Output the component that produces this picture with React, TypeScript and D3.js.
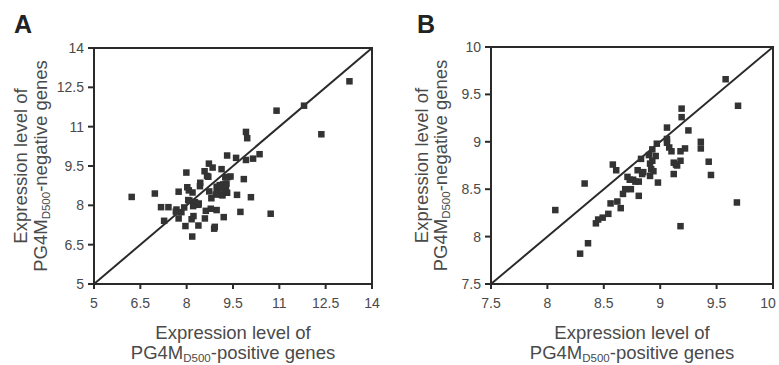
import React from "react";
import * as d3 from "d3";

// panel A: expression of PG4M(D500)-positive (x) vs -negative (y) genes
const aX = [6.22, 6.97, 7.17, 7.41, 7.27, 7.74, 7.67, 7.74, 7.83, 7.96, 7.99, 8.02, 8.07, 7.92, 8.05,
  8.16, 8.18, 8.19, 8.21, 8.27, 8.32, 8.39, 8.38, 8.43, 8.44, 8.58, 8.59, 8.62, 8.66, 8.72, 8.73, 8.8,
  8.78, 8.84, 8.89, 8.91, 8.97, 8.94, 8.97, 9.02, 9.13, 9.07, 9.16, 9.18, 9.2, 9.25, 9.27, 9.29, 9.31,
  9.34, 9.31, 9.42, 9.6, 9.63, 9.74, 9.85, 9.92, 9.96, 9.92, 10.08, 10.15, 10.36, 10.72, 10.91, 11.8,
  12.36, 13.27, 7.65, 8.09, 8.38, 8.22, 8.7, 9.13, 9.24, 8.97, 9.13];
const aY = [8.32, 8.45, 7.93, 7.93, 7.41, 8.52, 7.84, 7.5, 7.74, 7.21, 9.25, 8.69, 8.57, 7.92, 8.2,
  7.47, 6.81, 8.49, 7.97, 8.12, 8.05, 8.07, 7.23, 8.73, 8.86, 9.3, 7.5, 7.79, 9.12, 9.59, 8.53, 8.27,
  7.87, 9.44, 7.11, 7.18, 7.82, 8.41, 8.71, 8.52, 9.38, 8.77, 8.38, 8.8, 7.55, 9.07, 8.64, 8.83, 8.48,
  9.08, 9.9, 9.1, 9.81, 8.4, 7.75, 9.0, 10.8, 10.56, 9.73, 8.31, 9.78, 9.95, 7.68, 11.61, 11.8,
  10.71, 12.73, 7.76, 8.18, 8.02, 7.59, 9.09, 8.65, 8.52, 8.46, 8.4];
const aTicks = [5, 6.5, 8, 9.5, 11, 12.5, 14];

// panel B
const bX = [8.07, 8.33, 8.36, 8.29, 8.43, 8.45, 8.49, 8.54, 8.56, 8.58, 8.61, 8.62, 8.65, 8.67, 8.69,
  8.71, 8.73, 8.74, 8.76, 8.78, 8.8, 8.81, 8.81, 8.83, 8.84, 8.85, 8.9, 8.91, 8.91, 8.92, 8.93, 8.94,
  8.96, 8.97, 8.98, 8.93, 9.06, 9.06, 9.06, 9.08, 9.1, 9.12, 9.12, 9.14, 9.15, 9.18, 9.18, 9.19, 9.19,
  9.18, 9.22, 9.25, 9.36, 9.36, 9.43, 9.45, 9.58, 9.69, 9.68];
const bY = [8.28, 8.56, 7.93, 7.82, 8.14, 8.18, 8.2, 8.24, 8.35, 8.76, 8.7, 8.37, 8.3, 8.45, 8.5,
  8.63, 8.6, 8.5, 8.6, 8.58, 8.7, 8.43, 8.58, 8.82, 8.66, 8.68, 8.86, 8.77, 8.64, 8.71, 8.92, 8.69,
  8.85, 8.98, 8.57, 8.8, 9.15, 9.03, 8.99, 8.94, 8.9, 8.66, 8.78, 8.76, 8.75, 8.9, 8.8, 9.35, 9.26,
  8.11, 8.93, 9.12, 9.0, 8.93, 8.79, 8.65, 9.66, 9.38, 8.36];
const bTicks = [7.5, 8, 8.5, 9, 9.5, 10];

const font = "'Liberation Sans', Arial, sans-serif";
const ink = "#2a2a2a";
const txt = "#4a4a4a";

type PanelProps = {
  letter: string;
  xs: number[];
  ys: number[];
  ticks: number[];
  left: number;
  right: number;
  top: number;
  bottom: number;
  letterX: number;
  titleX1: number;
  titleX2: number;
};

function Panel(p: PanelProps) {
  const lo = p.ticks[0], hi = p.ticks[p.ticks.length - 1];
  const x = d3.scaleLinear().domain([lo, hi]).range([p.left, p.right]);
  const y = d3.scaleLinear().domain([lo, hi]).range([p.bottom, p.top]);
  const cx = (p.left + p.right) / 2;
  const cy = (p.top + p.bottom) / 2;
  const s = 6.5;
  return (
    <g>
      <text x={p.letterX} y={33} fontSize={25} fontWeight="bold" fill="#222" fontFamily={font}>{p.letter}</text>
      {/* frame */}
      <rect x={p.left} y={p.top} width={p.right - p.left} height={p.bottom - p.top}
        fill="none" stroke={ink} strokeWidth={2} />
      {p.ticks.map(t => (
        <g key={"x" + t}>
          <line x1={x(t)} x2={x(t)} y1={p.bottom} y2={p.bottom + 5} stroke={ink} strokeWidth={2} />
          <text x={Math.min(x(t), 768)} y={308} textAnchor="middle" fontSize={14} fill={txt} fontFamily={font}>{String(t)}</text>
        </g>
      ))}
      {p.ticks.map(t => (
        <g key={"y" + t}>
          <line x1={p.left - 6} x2={p.left} y1={y(t)} y2={y(t)} stroke={ink} strokeWidth={2} />
          <text x={p.left - 10} y={y(t) + 5} textAnchor="end" fontSize={14} fill={txt} fontFamily={font}>{String(t)}</text>
        </g>
      ))}
      <line x1={x(lo)} y1={y(lo)} x2={x(hi)} y2={y(hi)} stroke={ink} strokeWidth={2} />
      {p.xs.map((v, i) => (
        <rect key={i} x={x(v) - s / 2} y={y(p.ys[i]) - s / 2} width={s} height={s} fill="#333" />
      ))}
      {/* x title */}
      <text x={cx} y={339} textAnchor="middle" fontSize={18.5} fill={txt} fontFamily={font}>Expression level of</text>
      <text x={cx} y={359} textAnchor="middle" fontSize={18.5} fill={txt} fontFamily={font}>
        PG4M<tspan fontSize={11.5} dy={3}>D500</tspan><tspan dy={-3}>-positive genes</tspan>
      </text>
      {/* y title */}
      <text transform={`translate(${p.titleX1},${cy}) rotate(-90)`} textAnchor="middle" fontSize={18.5} fill={txt} fontFamily={font}>Expression level of</text>
      <text transform={`translate(${p.titleX2},${cy}) rotate(-90)`} textAnchor="middle" fontSize={18.5} fill={txt} fontFamily={font}>
        PG4M<tspan fontSize={11.5} dy={3}>D500</tspan><tspan dy={-3}>-negative genes</tspan>
      </text>
    </g>
  );
}

export default function App() {
  return (
    <svg width={779} height={365} style={{ position: "absolute", left: 0, top: 0, background: "#fff" }}>
      <Panel letter="A" xs={aX} ys={aY} ticks={aTicks} left={94} right={372} top={48} bottom={284}
        letterX={14} titleX1={27} titleX2={47} />
      <Panel letter="B" xs={bX} ys={bY} ticks={bTicks} left={491} right={773} top={47} bottom={284}
        letterX={417} titleX1={428} titleX2={447} />
    </svg>
  );
}
